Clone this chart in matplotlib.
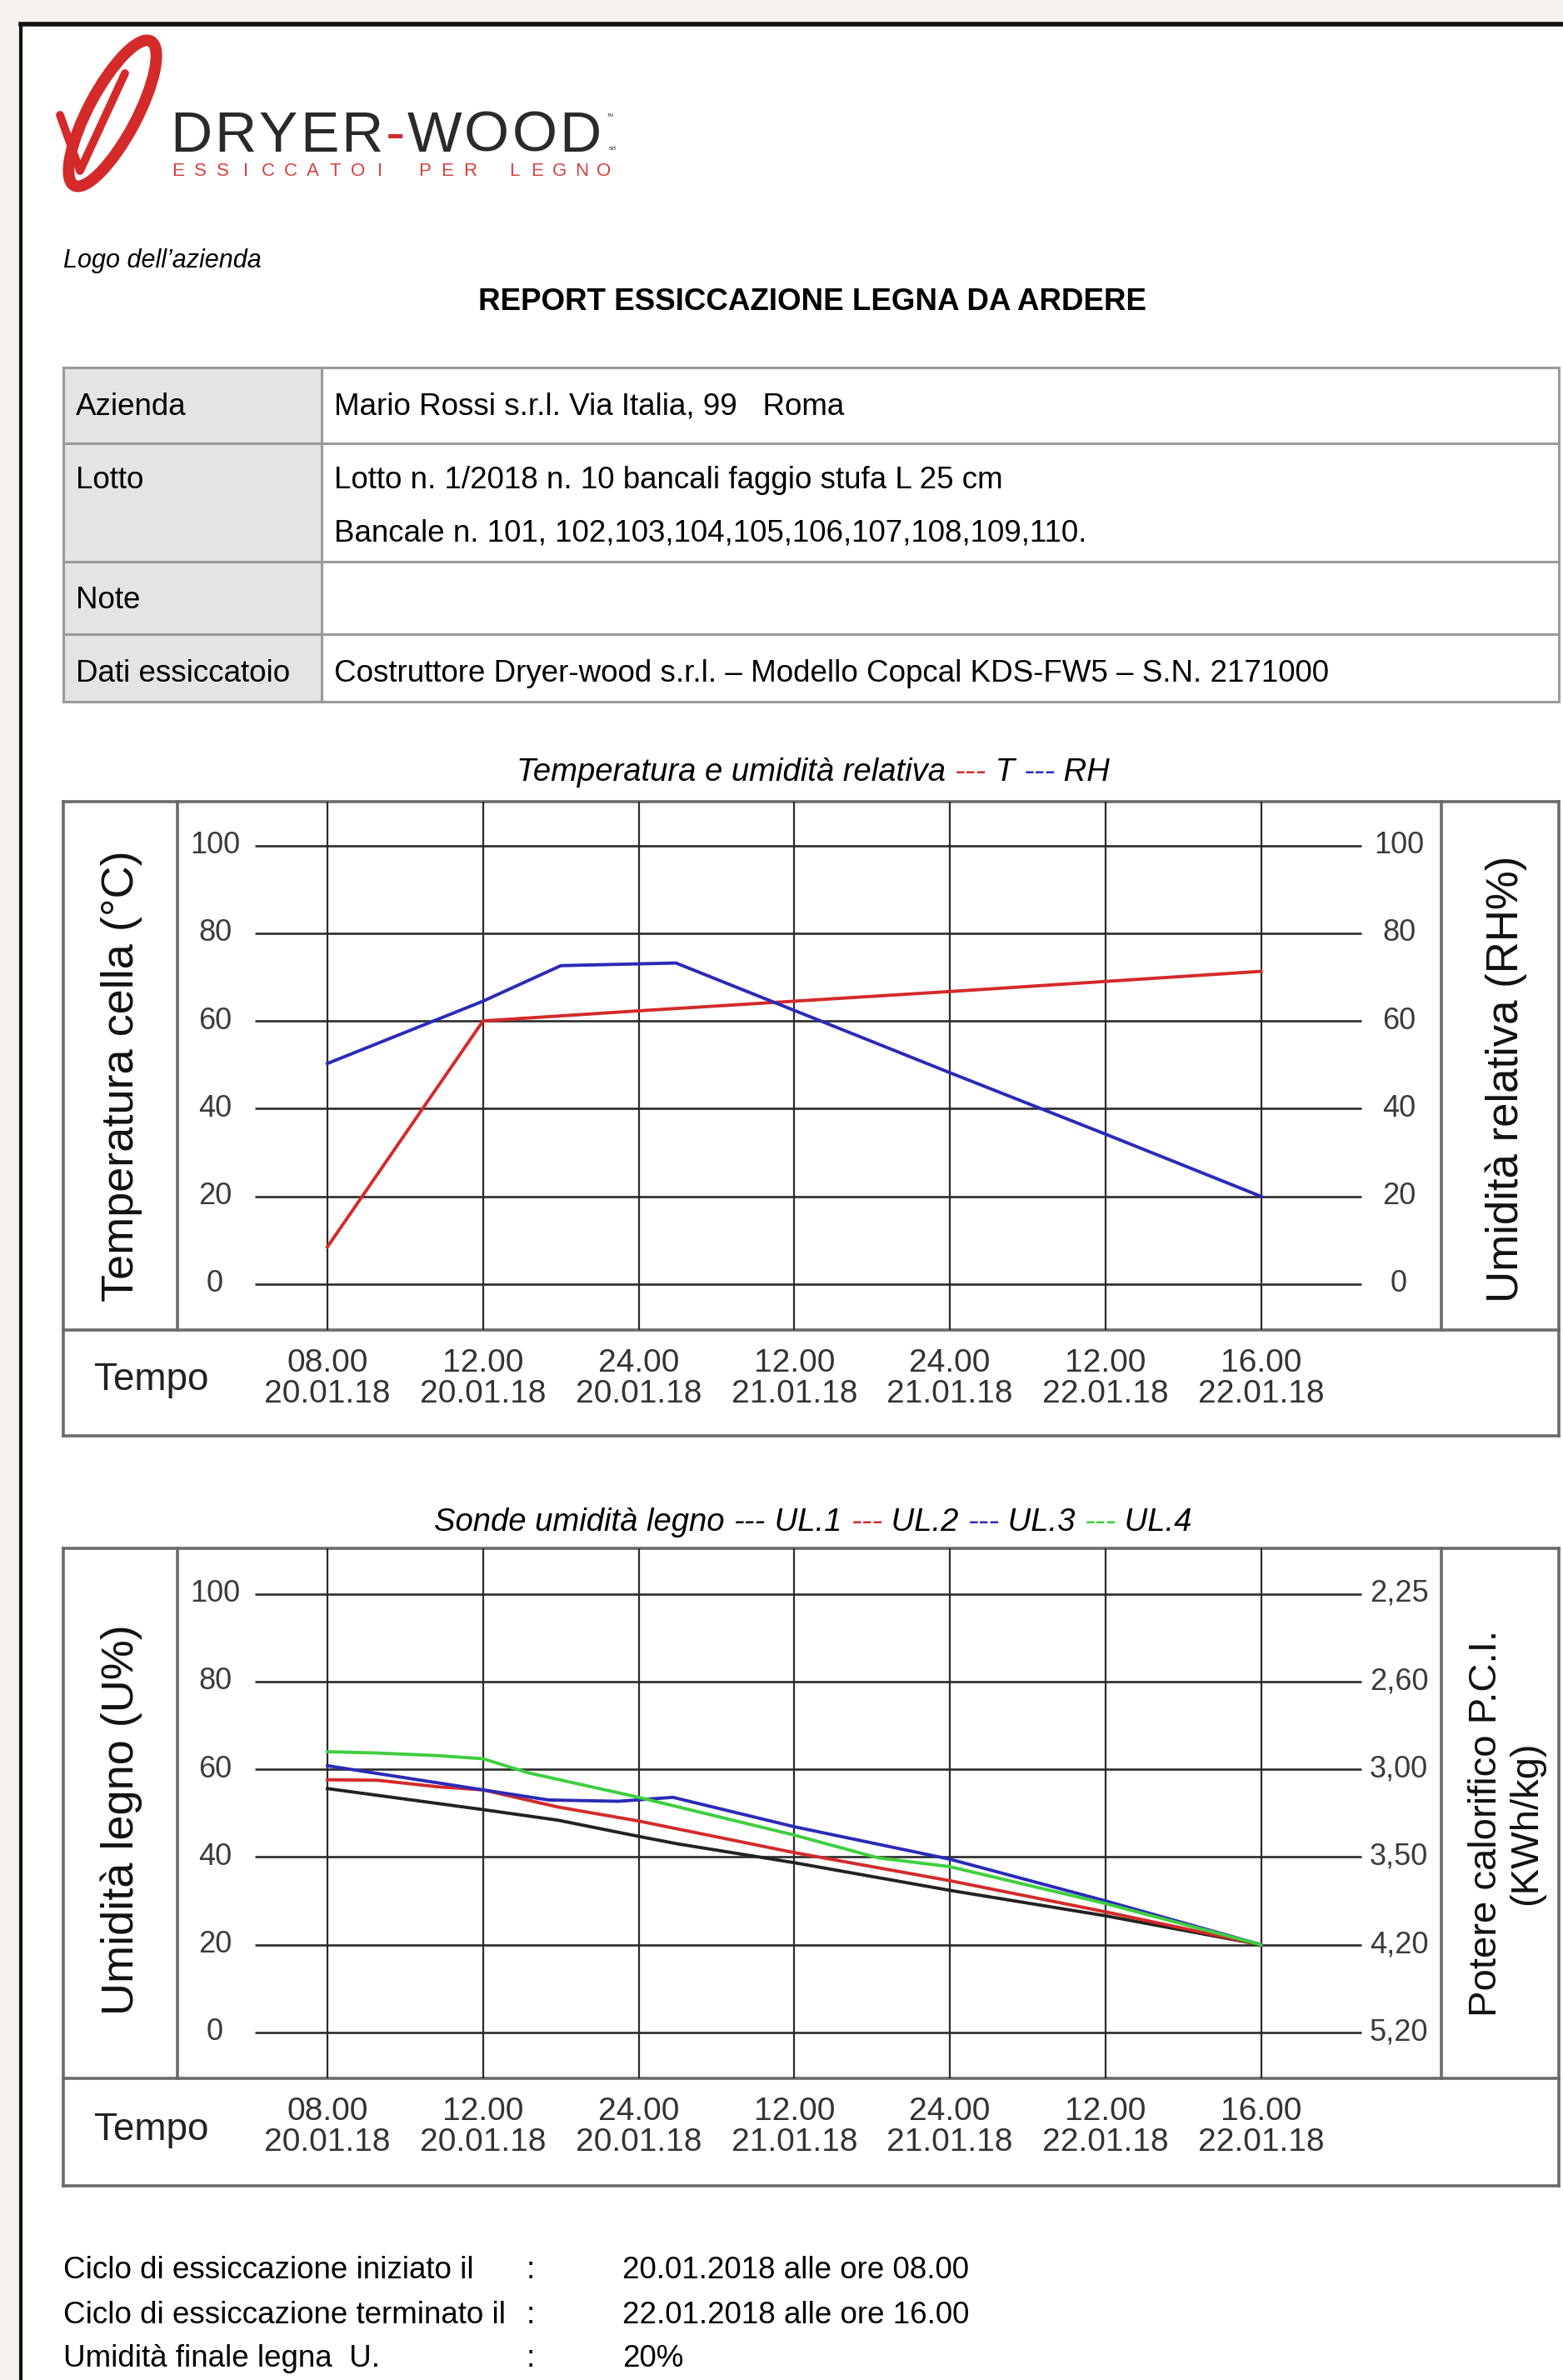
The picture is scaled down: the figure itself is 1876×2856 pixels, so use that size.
import matplotlib
matplotlib.use("Agg")
import matplotlib.pyplot as plt
from matplotlib.patches import Rectangle, Ellipse

# --- Data -------------------------------------------------------------------
TIME_TOP = ["08.00", "12.00", "24.00", "12.00", "24.00", "12.00", "16.00"]
TIME_BOTTOM = ["20.01.18", "20.01.18", "20.01.18", "21.01.18",
               "21.01.18", "22.01.18", "22.01.18"]
Y_TICKS = [0, 20, 40, 60, 80, 100]
PCI_LABELS = ["5,20", "4,20", "3,50", "3,00", "2,60", "2,25"]

# temperature / relative humidity (x = position on time axis)
T_X = [0, 1, 2, 3, 4, 5, 6]
T_VAL = [8.5, 60.0, 62.3, 64.5, 66.7, 69.0, 71.3]
RH_X = [0, 1, 1.5, 2.24, 3, 4, 5, 6]
RH_VAL = [50.3, 64.5, 72.6, 73.2, 62.4, 48.2, 34.2, 20.0]

# wood moisture probes
UL1_X = [0, 1, 1.48, 2, 2.25, 3, 4, 5, 6]
UL1 = [55.6, 50.8, 48.4, 44.7, 43.0, 38.7, 32.4, 26.6, 20.0]
UL2_X = [0, 0.32, 0.71, 1, 1.48, 2, 3, 4, 5, 6]
UL2 = [57.6, 57.5, 56.0, 55.3, 51.4, 48.2, 41.0, 34.6, 27.5, 20.0]
UL3_X = [0, 1, 1.42, 1.87, 2.22, 3, 4, 5, 6]
UL3 = [60.8, 55.3, 53.0, 52.7, 53.6, 46.9, 39.5, 30.0, 20.0]
UL4_X = [0, 0.32, 0.71, 1, 1.29, 2, 3, 3.54, 4, 5, 6]
UL4 = [64.0, 63.7, 63.1, 62.4, 59.2, 53.6, 45.0, 39.8, 37.8, 29.4, 20.0]

TABLE_ROWS = [
    ("Azienda", ["Mario Rossi s.r.l. Via Italia, 99   Roma"]),
    ("Lotto", ["Lotto n. 1/2018 n. 10 bancali faggio stufa L 25 cm",
               "Bancale n. 101, 102,103,104,105,106,107,108,109,110."]),
    ("Note", []),
    ("Dati essiccatoio",
     ["Costruttore Dryer-wood s.r.l. \u2013 Modello Copcal KDS-FW5 \u2013 S.N. 2171000"]),
]
FOOTER = [
    ("Ciclo di essiccazione iniziato il", "20.01.2018 alle ore 08.00"),
    ("Ciclo di essiccazione terminato il", "22.01.2018 alle ore 16.00"),
    ("Umidit\u00e0 finale legna  U.", "20%"),
]

# --- Layout (pixels of the 1876x2856 page) ----------------------------------
W, H = 1876, 2856
SANS = ["Liberation Sans", "DejaVu Sans"]
RED, BLUE, GREEN = "#d42a2a", "#2a2ab8", "#3ecf3e"
BOX = "#6a6a6a"
GRID = "#2b2b2b"
TXT = 26.5                         # size of the narrow document text

X0_PX, X_STEP = 393.0, 186.77      # position 0 and spacing of time columns
Y_PPU = 5.265                      # pixels per humidity/temperature unit

fig = plt.figure(figsize=(W / 100, H / 100), dpi=100)
fig.patch.set_facecolor("#f6f3ee")
page = fig.add_axes([0, 0, 1, 1])
page.set_xlim(0, W)
page.set_ylim(H, 0)
page.axis("off")
renderer = fig.canvas.get_renderer()


def text_row(y_px, pieces, x_left=None, x_center=None, gap=0, **kw):
    """Draw text pieces one after another, each with its own colour."""
    x = 0 if x_left is None else x_left
    items = []
    for s, c in pieces:
        t = page.text(x, y_px, s, color=c, ha="left", **kw)
        items.append(t)
        x = t.get_window_extent(renderer).x1 + gap
    if x_center is not None:
        shift = x_center - (items[0].get_position()[0] + x - gap) / 2
        for t in items:
            px, py = t.get_position()
            t.set_position((px + shift, py))


# sheet of paper
page.add_patch(Rectangle((25, 29), W, H, facecolor="white", edgecolor="none", zorder=0))
page.plot([25, W], [29, 29], color="#111111", lw=4, zorder=1)
page.plot([25, 25], [29, H], color="#111111", lw=3, zorder=1)

# logo
page.add_patch(Ellipse((135, 136), 58, 196, angle=28, fill=False,
                       edgecolor=RED, lw=10, zorder=2))
page.plot([72, 96, 150], [138, 205, 88], color=RED, lw=7,
          solid_capstyle="round", zorder=2)
text_row(182, [(ch, RED if ch == "-" else "#2a2a2a") for ch in "DRYER-WOOD"],
         x_left=204, gap=3, fontsize=50, family=SANS, va="baseline")
page.text(731, 180, "srl", fontsize=6, color="#2a2a2a", family=SANS, va="baseline")
page.text(729, 140, "TM", fontsize=4, color="#2a2a2a", family=SANS, va="baseline")
for k, ch in enumerate("ESSICCATOI PER LEGNO"):
    page.text(214 + k * 26.9, 211, ch, fontsize=16, color=RED, family=SANS,
              ha="center", va="baseline", alpha=0.9)

page.text(76, 313, "Logo dell\u2019azienda", fontsize=22, style="italic",
          family=SANS, va="center")
page.text(975, 362, "REPORT ESSICCAZIONE LEGNA DA ARDERE", fontsize=TXT,
          fontweight="bold", family=SANS, ha="center", va="center")

# info table
row_edges = [441, 532, 674, 761, 842]
for (label, lines), top, bot in zip(TABLE_ROWS, row_edges[:-1], row_edges[1:]):
    page.add_patch(Rectangle((76, top), 310, bot - top, facecolor="#e4e4e4",
                             edgecolor="none", zorder=1))
    first_y = top + 47 if len(lines) < 2 else top + 44
    page.text(91, first_y, label, fontsize=TXT, family=SANS, va="center", zorder=3)
    for k, line in enumerate(lines):
        page.text(401, first_y + 64 * k, line, fontsize=TXT, family=SANS,
                  va="center", zorder=3)
for yy in row_edges:
    page.plot([76, 1871], [yy, yy], color="#9a9a9a", lw=2.2, zorder=2)
for xx in [76, 386, 1871]:
    page.plot([xx, xx], [441, 842], color="#9a9a9a", lw=2.2, zorder=2)


def chart(top, sep, bottom, y0, left_label, right_labels, right_title, series,
          right_title_size, label_shift):
    # frame of the chart block
    for yy in [top, sep, bottom]:
        page.plot([76, 1871], [yy, yy], color=BOX, lw=2.6, zorder=2)
    for xx in [76, 1871]:
        page.plot([xx, xx], [top, bottom], color=BOX, lw=2.6, zorder=2)
    for xx in [213, 1730]:
        page.plot([xx, xx], [top, sep], color=BOX, lw=2.6, zorder=2)

    ax = fig.add_axes([213 / W, 1 - sep / H, (1730 - 213) / W, (sep - top) / H])
    ax.patch.set_alpha(0)
    ax.axis("off")
    ax.set_xlim((213 - X0_PX) / X_STEP, (1730 - X0_PX) / X_STEP)
    ax.set_ylim((y0 - sep) / Y_PPU, (y0 - top) / Y_PPU)
    xg0 = (306 - X0_PX) / X_STEP
    xg1 = (1634 - X0_PX) / X_STEP
    ax.hlines(Y_TICKS, xg0, xg1, color=GRID, lw=1.9)
    ax.vlines(range(len(TIME_TOP)), *ax.get_ylim(), color=GRID, lw=1.6)
    for v, rl in zip(Y_TICKS, right_labels):
        ax.text((258 - X0_PX) / X_STEP, v, str(v), fontsize=26, color="#3a3a3a",
                family=SANS, ha="center", va="center")
        ax.text((1679 - X0_PX) / X_STEP, v, rl, fontsize=26, color="#3a3a3a",
                family=SANS, ha="center", va="center")
    for xs, ys, c in series:
        ax.plot(xs, ys, color=c, lw=2.8, solid_joinstyle="round")

    mid = (top + sep) / 2 + label_shift
    page.text(146, mid, left_label, rotation=90, fontsize=39,
              family=SANS, ha="center", va="center", color="#111111")
    page.text(1808, mid + 4, right_title, rotation=90,
              fontsize=right_title_size, family=SANS, ha="center", va="center",
              color="#111111", linespacing=1.1)

    # time row
    page.text(182, (sep + bottom) / 2 - 3, "Tempo", fontsize=33, family=SANS,
              ha="center", va="center", color="#222222")
    for i, (a, b) in enumerate(zip(TIME_TOP, TIME_BOTTOM)):
        xp = X0_PX + i * X_STEP
        page.text(xp, sep + 40, a, fontsize=28, family=SANS, ha="center",
                  va="center", color="#333333")
        page.text(xp, sep + 77, b, fontsize=28, family=SANS, ha="center",
                  va="center", color="#333333")


TITLE_KW = dict(fontsize=27.5, style="italic", family=SANS, va="center")
text_row(927, [("Temperatura e umidit\u00e0 relativa ", "black"),
               ("---", RED), (" T ", "black"),
               ("---", BLUE), (" RH", "black")], x_center=976, **TITLE_KW)
chart(962, 1596, 1723, 1541, "Temperatura cella (\u00b0C)",
      [str(v) for v in Y_TICKS], "Umidit\u00e0 relativa (RH%)",
      [(T_X, T_VAL, RED), (RH_X, RH_VAL, BLUE)], 38, 12)

text_row(1827, [("Sonde umidit\u00e0 legno ", "black"), ("---", "black"),
                (" UL.1 ", "black"), ("---", RED), (" UL.2 ", "black"),
                ("---", BLUE), (" UL.3 ", "black"),
                ("---", GREEN), (" UL.4", "black")], x_center=976, **TITLE_KW)
chart(1858, 2494, 2623, 2439, "Umidit\u00e0 legno (U%)", PCI_LABELS,
      "Potere calorifico P.C.I.\n(KWh/kg)",
      [(UL1_X, UL1, "#222222"), (UL2_X, UL2, RED), (UL3_X, UL3, BLUE),
       (UL4_X, UL4, GREEN)], 34, 8)

# footer summary
for k, (label, value) in enumerate(FOOTER):
    yy = 2725 + 53 * k
    page.text(76, yy, label, fontsize=TXT, family=SANS, va="center")
    page.text(632, yy, ":", fontsize=TXT, family=SANS, va="center")
    page.text(747, yy, value, fontsize=TXT, family=SANS, va="center")

fig.savefig("out.png", dpi=100)
